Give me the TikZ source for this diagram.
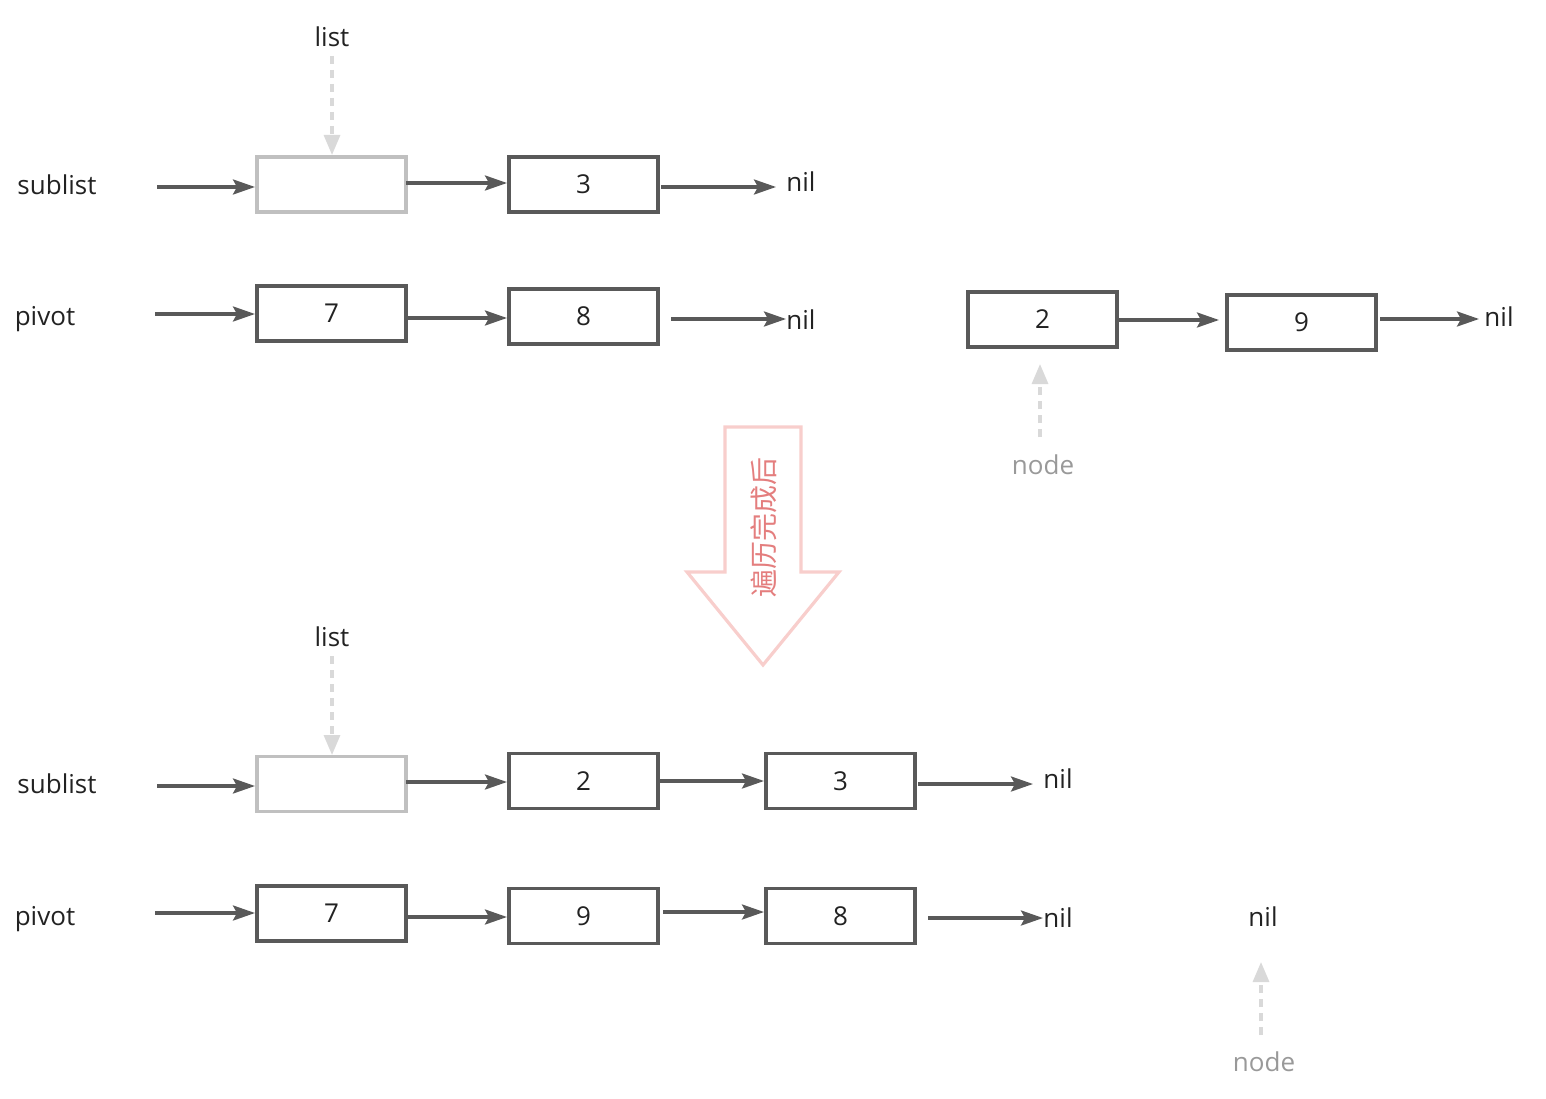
\documentclass[tikz,border=0pt]{standalone}
\usepackage{fontspec}
\setmainfont{Open Sans}
\newfontfamily\cjk{Noto Sans CJK SC}
\usetikzlibrary{arrows.meta}
\definecolor{dk}{HTML}{595959}
\definecolor{lt}{HTML}{C0C0C0}
\definecolor{dsh}{HTML}{D9D9D9}
\definecolor{pinkline}{HTML}{F8CECC}
\definecolor{pinktext}{HTML}{E47E7E}
\definecolor{lbl}{HTML}{999999}
\definecolor{txt}{HTML}{222222}
\tikzset{
  every node/.style={font=\fontsize{26}{30}\selectfont, text=txt},
  cell/.style={draw=dk, line width=3.2pt, minimum width=149pt, minimum height=55pt, inner sep=0pt},
  headcell/.style={draw=lt, line width=3.2pt, minimum width=149pt, minimum height=55pt, inner sep=0pt},
  link/.style={draw=dk, line width=3.2pt, -{Stealth[length=22pt,width=15pt,inset=4pt]}},
  ptr/.style={draw=dsh, line width=3.2pt, dash pattern=on 8pt off 6pt, -{Triangle[length=20pt,width=16pt]}},
  word/.style={inner sep=0pt, anchor=center},
  grey/.style={word, text=lbl}
}
\begin{document}
\begin{tikzpicture}[x=1pt,y=-1pt]
\useasboundingbox (0,0) rectangle (1546,1099);
% ===== top =====
\node[word] (l1) at (332,37) {list};
\coordinate (l1s) at (332,56);
\node[word] (s1) at (57,185) {sublist};
\coordinate (s1s) at (157,187);
\node[headcell] (h1) at (331.5,184.5) {};
\node[cell] (a3) at (583.5,184.5) {3};
\node[word] (n1) at (801,182) {nil};
\draw[ptr] (l1s) -- (332,155);
\draw[link] (s1s) -- (255,187);
\draw[link] (406,183) -- (507,183);
\draw[link] (661,187) -- (776,187);

\node[word] (p1) at (45,319) {pivot};
\coordinate (p1s) at (155,314);
\node[cell] (b7) at (331.5,313.5) {7};
\node[cell] (b8) at (583.5,316.5) {8};
\node[word] (n2) at (801,320) {nil};
\draw[link] (p1s) -- (255,314);
\draw[link] (406,318) -- (507,318);
\draw[link] (671,319) -- (786,319);

\node[cell] (c2) at (1042.5,319.5) {2};
\node[cell] (c9) at (1301.5,322.5) {9};
\node[word] (n3) at (1499,317) {nil};
\node[grey] (nd1) at (1043,465) {node};
\coordinate (nd1s) at (1040,437);
\draw[link] (1117,320) -- (1219,320);
\draw[link] (1380,319) -- (1479,319);
\draw[ptr] (nd1s) -- (1040,364);

% ===== big arrow =====
\draw[draw=pinkline, fill=white, line width=3.2pt, line join=miter]
  (725,427) -- (801,427) -- (801,572) -- (839,572) -- (763,665) -- (687,572) -- (725,572) -- cycle;
\node[word, rotate=90, text=pinktext, font=\cjk\fontsize{28}{32}\selectfont] (cap) at (764,527) {遍历完成后};

% ===== bottom =====
\node[word] (l2) at (332,637) {list};
\coordinate (l2s) at (332,656);
\node[word] (s2) at (57,784) {sublist};
\coordinate (s2s) at (157,786);
\node[headcell] (h2) at (331.5,784) {};
\node[cell] (d2) at (583.5,781) {2};
\node[cell] (d3) at (840.5,781) {3};
\node[word] (n4) at (1058,779) {nil};
\draw[ptr] (l2s) -- (332,755);
\draw[link] (s2s) -- (255,786);
\draw[link] (406,782) -- (507,782);
\draw[link] (658,781) -- (764,781);
\draw[link] (918,784) -- (1033,784);

\node[word] (p2) at (45,919) {pivot};
\coordinate (p2s) at (155,913);
\node[cell] (e7) at (331.5,913.5) {7};
\node[cell] (e9) at (583.5,916) {9};
\node[cell] (e8) at (840.5,916) {8};
\node[word] (n5) at (1058,918) {nil};
\draw[link] (p2s) -- (255,913);
\draw[link] (406,917) -- (507,917);
\draw[link] (663,912) -- (764,912);
\draw[link] (928,918) -- (1043,918);

\node[word] (n6) at (1263,917) {nil};
\node[grey] (nd2) at (1264,1062) {node};
\coordinate (nd2s) at (1261,1035);
\draw[ptr] (nd2s) -- (1261,962);
\end{tikzpicture}
\end{document}
